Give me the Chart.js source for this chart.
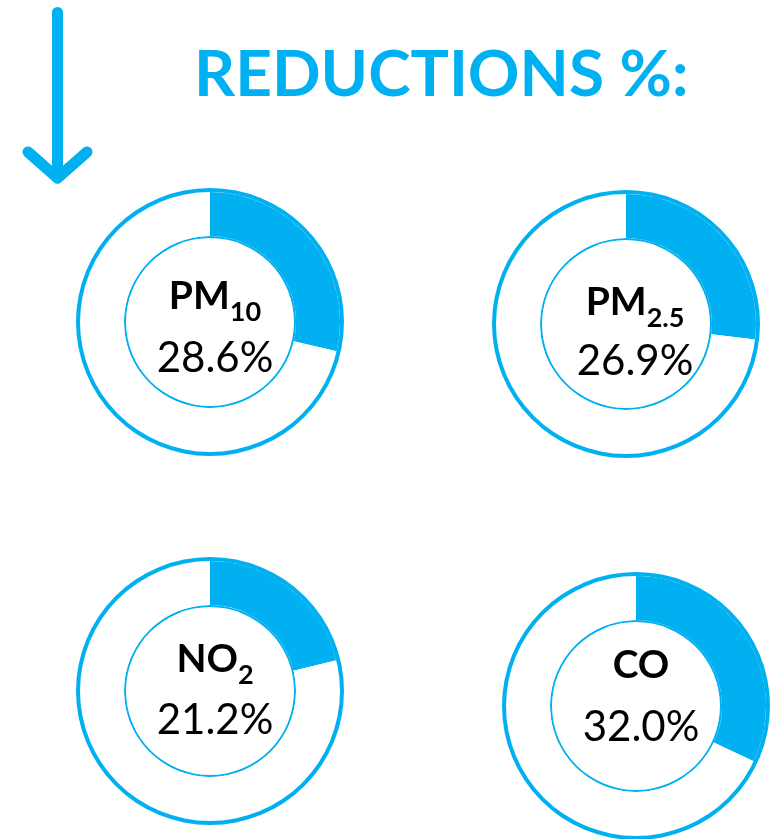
<!DOCTYPE html>
<html>
<head>
<meta charset="utf-8">
<script src="https://cdn.jsdelivr.net/npm/chart.js@4.4.1/dist/chart.umd.min.js"></script>
<style>
  html, body { margin: 0; padding: 0; background: #fff; overflow: hidden; }
  body { width: 777px; height: 839px; position: relative; }
  #title { position: absolute; left: 194px; top: 34px; font: bold 64px Lato; color: #00B0F0; line-height: 1.2; white-space: nowrap; }
  #arrow { position: absolute; left: 0; top: 0; }
  canvas.donut { position: absolute; }
</style>
</head>
<body>
<svg id="arrow" width="110" height="200">
  <g stroke="#00B0F0" stroke-width="11" stroke-linecap="round" stroke-linejoin="round" fill="none">
    <line x1="57.5" y1="12.5" x2="57.5" y2="177"/>
    <polyline points="28,152 57.5,178 87,152"/>
  </g>
</svg>
<div id="title">REDUCTIONS %:</div>

<script>
// data
const pollutants = ['PM', 'PM', 'NO', 'CO'];
const subscripts = ['10', '2.5', '2', ''];
const reductions = [28.6, 26.9, 21.2, 32.0];

// where each donut sits on the page (center x, center y) and its text offsets
const centers = [[210, 322], [626, 324], [210, 691], [636, 706]];
const textShift = [[5, -13, 50], [9, -9, 51], [5, -19, 43], [5, -28, 35]];

const BLUE = '#00B0F0';
const R_OUT = 134;
const R_IN = 84;
const SIZE = 280;

const centerText = {
    id: 'centerText',
    afterDraw( chart, args, opts ) {
        const arc = chart.getDatasetMeta( 1 ).data[0];
        const ctx = chart.ctx;
        const cx = arc.x + opts.dx;
        const cy = arc.y;
        ctx.save();
        ctx.fillStyle = '#000';
        ctx.textBaseline = 'alphabetic';
        ctx.textAlign = 'left';
        ctx.font = 'bold 39px Lato';
        const wMain = ctx.measureText( opts.name ).width;
        ctx.font = 'bold 27px Lato';
        const wSub = opts.sub ? ctx.measureText( opts.sub ).width : 0;
        const x = cx - ( wMain + wSub ) / 2;
        ctx.font = 'bold 39px Lato';
        ctx.fillText( opts.name, x, cy + opts.labelY );
        if ( opts.sub ) {
            ctx.font = 'bold 27px Lato';
            ctx.fillText( opts.sub, x + wMain, cy + opts.labelY + 12 );
        }
        ctx.font = '42px Lato';
        ctx.textAlign = 'center';
        ctx.fillText( opts.value, cx, cy + opts.valueY );
        ctx.restore();
    }
};

for ( let i = 0; i < reductions.length; i++ ) {
    const canvas = document.createElement( 'canvas' );
    canvas.className = 'donut';
    canvas.width = SIZE;
    canvas.height = SIZE;
    canvas.style.left = ( centers[i][0] - SIZE / 2 ) + 'px';
    canvas.style.top = ( centers[i][1] - SIZE / 2 ) + 'px';
    document.body.appendChild( canvas );

    const v = reductions[i];
    new Chart( canvas.getContext( '2d' ), {
        type: 'doughnut',
        data: {
            labels: ['reduction', 'rest'],
            datasets: [
                { data: [100], backgroundColor: [BLUE], weight: 4 },
                { data: [v, 100 - v], backgroundColor: [BLUE, '#ffffff'], weight: 44 },
                { data: [100], backgroundColor: [BLUE], weight: 2 },
            ]
        },
        options: {
            responsive: false,
            animation: false,
            events: [],
            radius: R_OUT,
            cutout: ( R_IN / R_OUT * 100 ) + '%',
            elements: { arc: { borderWidth: 0 } },
            plugins: {
                legend: { display: false },
                tooltip: { enabled: false },
                centerText: {
                    name: pollutants[i],
                    sub: subscripts[i],
                    value: v.toFixed( 1 ) + '%',
                    dx: textShift[i][0],
                    labelY: textShift[i][1],
                    valueY: textShift[i][2],
                }
            }
        },
        plugins: [centerText]
    } );
}
</script>
</body>
</html>
